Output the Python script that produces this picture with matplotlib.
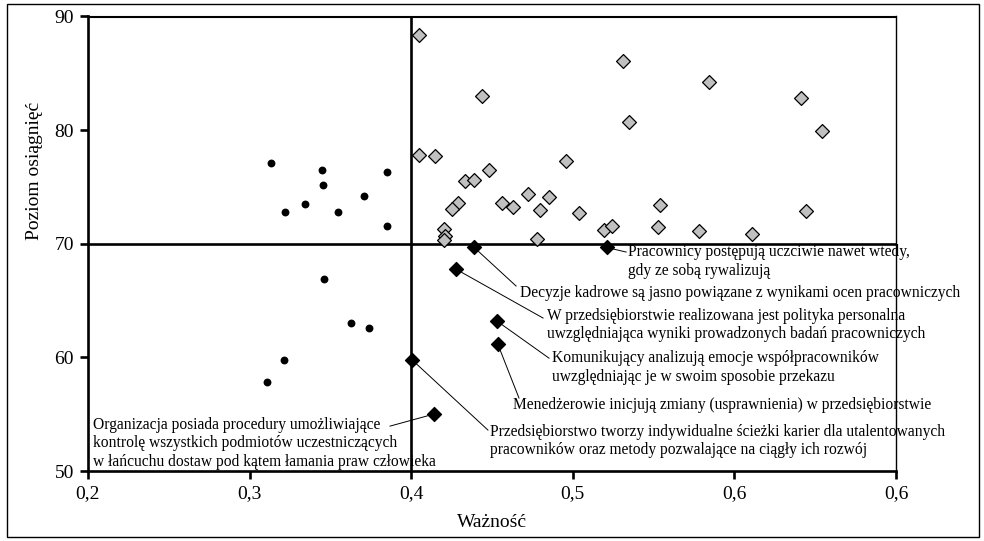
import matplotlib
matplotlib.use("Agg")
import matplotlib.pyplot as plt
from matplotlib.patches import Rectangle

plt.rcParams['font.family'] = ['Liberation Serif', 'DejaVu Serif']

# czarne punkty (lewa część)
circle_x = [0.313, 0.345, 0.3455, 0.385, 0.371, 0.334, 0.322, 0.355, 0.385,
            0.346, 0.363, 0.374, 0.321, 0.311]
circle_y = [77.1, 76.5, 75.2, 76.3, 74.2, 73.5, 72.8, 72.8, 71.6,
            66.9, 63.0, 62.6, 59.8, 57.8]

# szare romby (prawa górna ćwiartka)
gray_x = [0.405, 0.444, 0.405, 0.415, 0.448, 0.433, 0.439, 0.496, 0.429, 0.425,
          0.456, 0.463, 0.472, 0.485, 0.480, 0.504, 0.420, 0.421, 0.420, 0.478,
          0.531, 0.584, 0.641, 0.535, 0.654, 0.554, 0.644, 0.519, 0.524, 0.553,
          0.578, 0.611]
gray_y = [88.4, 83.0, 77.8, 77.7, 76.5, 75.5, 75.6, 77.3, 73.6, 73.1,
          73.6, 73.2, 74.4, 74.1, 73.0, 72.7, 71.3, 70.7, 70.3, 70.4,
          86.1, 84.2, 82.8, 80.7, 79.9, 73.4, 72.9, 71.2, 71.6, 71.5,
          71.1, 70.9]

# czarne romby z opisami
black_x = [0.521, 0.439, 0.428, 0.453, 0.4535, 0.4004, 0.4138]
black_y = [69.67, 69.67, 67.74, 63.2, 61.2, 59.8, 55.0]
black_labels = [
    "Pracownicy postępują uczciwie nawet wtedy,\ngdy ze sobą rywalizują",
    "Decyzje kadrowe są jasno powiązane z wynikami ocen pracowniczych",
    "W przedsiębiorstwie realizowana jest polityka personalna\nuwzględniająca wyniki prowadzonych badań pracowniczych",
    "Komunikujący analizują emocje współpracowników\nuwzględniając je w swoim sposobie przekazu",
    "Menedżerowie inicjują zmiany (usprawnienia) w przedsiębiorstwie",
    "Przedsiębiorstwo tworzy indywidualne ścieżki karier dla utalentowanych\npracowników oraz metody pozwalające na ciągły ich rozwój",
    "Organizacja posiada procedury umożliwiające\nkontrolę wszystkich podmiotów uczestniczących\nw łańcuchu dostaw pod kątem łamania praw człowieka",
]

x_ticks = [0.2, 0.3, 0.4, 0.5, 0.6, 0.7]
x_ticklabels = ["0,2", "0,3", "0,4", "0,5", "0,6", "0,6"]
y_ticks = [50, 60, 70, 80, 90]

# położenie tekstów i końców linii odniesienia
text_pos = [(0.5342, 68.43), (0.4673, 65.66), (0.484, 62.84), (0.4871, 59.1),
            (0.463, 55.8), (0.4488, 52.63), (0.2031, 52.45)]
line_end = [(0.533, 69.27), (0.4649, 66.28), (0.4816, 63.46), (0.4853, 59.93),
            (0.4667, 56.42), (0.4475, 53.6), (0.3869, 53.95)]

fig = plt.figure(figsize=(9.84, 5.41), dpi=100)
ax = fig.add_axes([88 / 984, 1 - 471 / 541, 808 / 984, 454.5 / 541])

ax.set_xlim(0.2, 0.7)
ax.set_ylim(50, 90)

ax.axhline(70, color='black', lw=1.9, zorder=2)
ax.axvline(0.4, color='black', lw=1.9, zorder=2)

for (x0, y0), (x1, y1) in zip(zip(black_x, black_y), line_end):
    ax.plot([x0, x1], [y0, y1], color='black', lw=0.7, zorder=3)

ax.scatter(circle_x, circle_y, s=32, color='black', zorder=4, linewidths=0)
ax.scatter(gray_x, gray_y, s=50, marker='D', facecolor='#c0c0c0',
           edgecolor='black', linewidths=0.9, zorder=4)
ax.scatter(black_x, black_y, s=50, marker='D', color='black', zorder=5)

for (tx, ty), lab in zip(text_pos, black_labels):
    ax.text(tx, ty, lab, ha='left', va='center', fontsize=11.2,
            linespacing=1.22, zorder=3, clip_on=False)

ax.set_xticks(x_ticks)
ax.set_xticklabels(x_ticklabels)
ax.set_yticks(y_ticks)
ax.tick_params(direction='out', length=6, width=1.9, labelsize=14, pad=4)

for side in ['left', 'bottom']:
    ax.spines[side].set_linewidth(1.9)
ax.spines['top'].set_linewidth(1.5)
ax.spines['right'].set_linewidth(1.0)
for sp in ax.spines.values():
    sp.set_zorder(6)

ax.set_xlabel("Ważność", fontsize=14, labelpad=9)
ax.set_ylabel("Poziom osiągnięć", fontsize=14, labelpad=6)
ax.yaxis.set_label_coords(-0.056, 0.66)

fig.patches.append(Rectangle((7 / 984, 4 / 541), 972 / 984, 533 / 541,
                             transform=fig.transFigure, fill=False,
                             edgecolor='black', lw=1.0))

fig.savefig("out.png", dpi=100)
